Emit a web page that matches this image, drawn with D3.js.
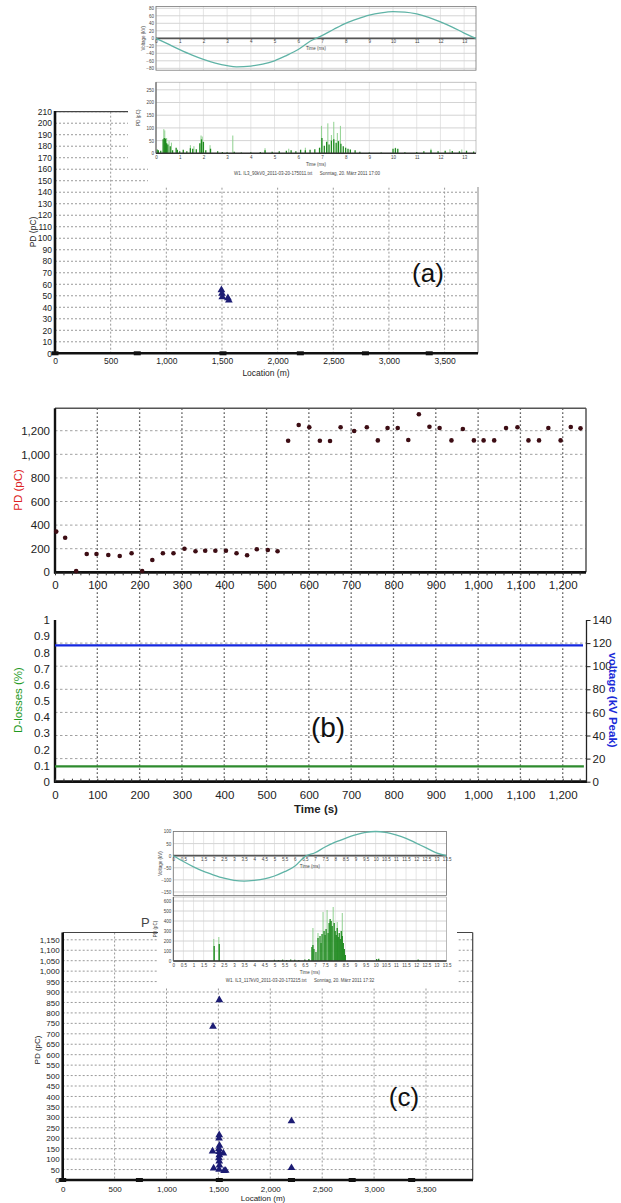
<!DOCTYPE html>
<html>
<head>
<meta charset="utf-8">
<script src="https://cdn.jsdelivr.net/npm/d3@7"></script>
<style>
body { margin: 0; background: #fff; }
svg { display: block; font-family: "Liberation Sans", Arial, sans-serif; }
</style>
</head>
<body>
<svg id="fig" width="621" height="1203"></svg>
<script>
// ---------- data ----------
var locTicks = [0, 500, 1000, 1500, 2000, 2500, 3000, 3500];
var jointLoc = [0, 739, 1509, 2204, 2789, 3362];

// (a) PD map
var aLoc = [1495, 1500, 1503, 1553, 1562];
var aPD = [55, 52, 49, 48, 46];

// (a) inset voltage (kV) vs time (ms)
var aVoltT = [0, 0.5, 1, 1.5, 2, 2.5, 3, 3.4, 4, 4.5, 5, 5.5, 6, 6.5, 7, 7.5, 8, 8.5, 9, 9.5, 10, 10.5, 11, 11.5, 12, 12.5, 13, 13.5];
var aVoltV = [0, -15, -30, -44, -56, -66, -73, -76, -74, -69, -60, -46, -30, -8, 7, 24, 40, 52, 62, 68, 71, 70, 65, 56, 44, 30, 14, 0];

// (a) inset PD pulses (pC) vs time (ms)
var aPaleT = [0.33, 0.37, 0.45, 0.55, 0.65, 1.45, 1.6, 1.9, 1.95, 2.28, 3.24, 4.6, 5.6, 6.3, 6.98, 7.25, 7.4, 7.5, 7.65, 7.78, 10.1, 11.6, 12.4, 12.9];
var aPaleV = [95, 90, 60, 48, 42, 32, 28, 70, 66, 32, 70, 20, 18, 22, 108, 118, 72, 124, 80, 108, 22, 18, 16, 15];
var aDarkT = [0.05, 0.1, 0.2, 0.3, 0.35, 0.4, 0.45, 0.5, 0.6, 0.7, 0.85, 0.9, 1.0, 1.15, 1.3, 1.45, 1.55, 1.7, 1.85, 1.92, 2.0, 2.1, 2.3, 2.6, 2.8, 3.0, 3.3, 3.6, 4.0, 4.4, 4.6, 4.9, 5.2, 5.5, 5.7, 5.9, 6.1, 6.3, 6.5, 6.7, 6.9, 7.0, 7.1, 7.2, 7.3, 7.4, 7.5, 7.6, 7.7, 7.8, 7.9, 8.0, 8.1, 8.2, 8.4, 8.6, 9.0, 9.5, 10.0, 10.1, 10.2, 10.5, 11.0, 11.3, 11.6, 11.9, 12.2, 12.5, 12.8, 13.1, 13.4];
var aDarkV = [15, 12, 10, 55, 60, 58, 40, 35, 28, 12, 22, 14, 8, 14, 8, 20, 18, 16, 40, 55, 45, 12, 18, 8, 5, 4, 6, 3, 4, 5, 12, 6, 8, 10, 12, 8, 14, 12, 14, 16, 22, 60, 30, 45, 35, 50, 55, 42, 48, 38, 28, 22, 18, 15, 12, 6, 3, 3, 18, 20, 18, 4, 5, 8, 12, 8, 10, 9, 8, 10, 7];

// (b) PD (pC) and losses / voltage vs time (s)
var bTime = [3, 24, 50, 75, 98, 126, 153, 181, 206, 230, 255, 280, 306, 332, 355, 379, 404, 429, 454, 477, 503, 526, 551, 576, 601, 626, 650, 675, 707, 737, 763, 786, 810, 835, 860, 885, 909, 937, 964, 990, 1013, 1038, 1066, 1093, 1119, 1144, 1166, 1195, 1219, 1242];
var bPD = [345, 293, 10, 155, 155, 146, 138, 161, 11, 104, 161, 161, 200, 178, 183, 183, 183, 161, 144, 195, 189, 178, 1115, 1248, 1229, 1115, 1113, 1229, 1197, 1229, 1118, 1223, 1223, 1121, 1339, 1234, 1223, 1118, 1214, 1118, 1118, 1118, 1223, 1229, 1118, 1118, 1223, 1118, 1231, 1220];
var bLineT = [0, 1250];
var bVoltKV = [118, 118];
var bLoss = [0.095, 0.095];

// (c) inset voltage
var cVoltT = [0, 0.5, 1, 1.5, 2, 2.5, 3, 3.5, 4, 4.5, 5, 5.5, 6, 6.5, 7, 7.5, 8, 8.5, 9, 9.5, 10, 10.5, 11, 11.5, 12, 12.5, 13, 13.5];
var cVoltV = [0, -24, -46, -65, -80, -93, -102, -105, -102, -96, -84, -66, -44, -4, 12, 36, 56, 72, 86, 96, 100, 96, 86, 72, 52, 32, 12, 0];

// (c) inset PD pulses
var cPaleT = [2.0, 2.25, 6.9, 7.15, 7.4, 7.6, 7.75, 7.9, 8.1, 8.35];
var cPaleV = [220, 240, 330, 280, 490, 510, 400, 540, 390, 480];
var cDarkT = [2.02, 2.27, 5.0, 5.2, 5.4, 5.6, 5.8, 6.0, 6.2, 6.5, 6.7, 6.85, 6.9, 6.95, 7.05, 7.15, 7.25, 7.3, 7.35, 7.45, 7.5, 7.55, 7.65, 7.7, 7.75, 7.8, 7.85, 7.95, 8.0, 8.05, 8.1, 8.15, 8.2, 8.25, 8.3, 8.35, 8.4, 8.45, 8.5, 10.05, 10.15, 12.1];
var cDarkV = [150, 170, 12, 10, 14, 10, 16, 12, 10, 15, 20, 140, 160, 120, 90, 230, 250, 180, 270, 300, 260, 320, 280, 380, 420, 400, 350, 380, 300, 260, 330, 240, 280, 220, 300, 250, 180, 120, 60, 20, 22, 15];

// (c) PD map
var cLoc = [1509, 1448, 1508, 1506, 1510, 1505, 1507, 1509, 1506, 1508, 1510, 1507, 1444, 1548, 1454, 1555, 1570, 2204, 2204];
var cPD = [862, 735, 215, 200, 165, 150, 135, 120, 105, 90, 70, 50, 138, 128, 56, 44, 45, 282, 58];

// ---------- drawing ----------
var svg = d3.select("#fig");
var fmt = d3.format(",");
var navy = "#1c1c74";

function dotGridH(vals, sy, x0, x1, color, dash) {
    svg.append("g").selectAll("line").data(vals).enter().append("line")
        .attr("x1", x0).attr("x2", x1)
        .attr("y1", function(d) { return sy(d); })
        .attr("y2", function(d) { return sy(d); })
        .attr("stroke", color).attr("stroke-width", 1)
        .attr("stroke-dasharray", dash);
}
function dotGridV(vals, sx, y0, y1, color, dash, w) {
    svg.append("g").selectAll("line").data(vals).enter().append("line")
        .attr("y1", y0).attr("y2", y1)
        .attr("x1", function(d) { return sx(d); })
        .attr("x2", function(d) { return sx(d); })
        .attr("stroke", color).attr("stroke-width", w || 1)
        .attr("stroke-dasharray", dash);
}
function styleAxis(g, size, color) {
    g.select(".domain").remove();
    g.selectAll("line").remove();
    g.selectAll("text").attr("font-size", size).attr("fill", color || "#222")
        .attr("font-family", "'Liberation Sans', Arial, sans-serif");
}
function jointMarks(sx, y) {
    svg.append("g").selectAll("rect").data(jointLoc).enter().append("rect")
        .attr("x", function(d) { return sx(d) - 3.5; })
        .attr("y", y - 2)
        .attr("width", 7).attr("height", 4)
        .attr("fill", "#111");
}
function triangles(locs, vals, sx, sy) {
    svg.append("g").selectAll("path").data(locs).enter().append("path")
        .attr("d", d3.symbol().type(d3.symbolTriangle).size(26))
        .attr("transform", function(d, i) { return "translate(" + sx(d) + "," + sy(vals[i]) + ")"; })
        .attr("fill", navy);
}

// inset (voltage + PD trace) drawn over a map panel
function inset(opt) {
    var vx = d3.scaleLinear().domain([0, 13.5]).range(opt.xr);
    var vy = d3.scaleLinear().domain(opt.vDom).range(opt.vRange);
    var py = d3.scaleLinear().domain(opt.pDom).range(opt.pRange);
    var gridC = "#d4d4d4";
    // voltage frame
    dotGridV(opt.tGrid, vx, opt.vRange[1], opt.vRange[0], gridC, null, 0.6);
    dotGridH(opt.vTicks, vy, opt.xr[0], opt.xr[1], gridC, null);
    svg.append("rect").attr("x", opt.xr[0]).attr("y", opt.vRange[1])
        .attr("width", opt.xr[1] - opt.xr[0]).attr("height", opt.vRange[0] - opt.vRange[1])
        .attr("fill", "none").attr("stroke", "#777").attr("stroke-width", 0.8);
    svg.append("line").attr("x1", opt.xr[0]).attr("x2", opt.xr[1])
        .attr("y1", vy(0)).attr("y2", vy(0)).attr("stroke", "#555").attr("stroke-width", 1.8);
    svg.append("g").attr("transform", "translate(" + opt.xr[0] + ",0)")
        .call(d3.axisLeft(vy).tickValues(opt.vTicks).tickSize(0).tickPadding(2))
        .call(styleAxis, 4.5, "#444");
    svg.append("g").attr("transform", "translate(0," + vy(0) + ")")
        .call(d3.axisBottom(vx).tickValues(opt.tTicks).tickSize(0).tickPadding(2).tickFormat(d3.format("")))
        .call(styleAxis, 4.5, "#444");
    svg.append("text").attr("x", d3.mean(opt.xr)).attr("y", vy(0) + 12)
        .attr("text-anchor", "middle").attr("font-size", 4.5).attr("fill", "#444").text("Time (ms)");
    svg.append("text").attr("transform", "translate(" + (opt.xr[0] - 11) + "," + d3.mean(opt.vRange) + ") rotate(-90)")
        .attr("text-anchor", "middle").attr("font-size", 4.5).attr("fill", "#444").text("Voltage (kV)");
    svg.append("path").datum(opt.voltT)
        .attr("fill", "none").attr("stroke", "#5fb3a6").attr("stroke-width", 1.3)
        .attr("d", d3.line().curve(d3.curveMonotoneX)
            .x(function(d) { return vx(d); })
            .y(function(d, i) { return vy(opt.voltV[i]); }));

    // PD frame
    dotGridV(opt.tGrid, vx, opt.pRange[1], opt.pRange[0], gridC, null, 0.6);
    dotGridH(opt.pTicks, py, opt.xr[0], opt.xr[1], gridC, null);
    svg.append("rect").attr("x", opt.xr[0]).attr("y", opt.pRange[1])
        .attr("width", opt.xr[1] - opt.xr[0]).attr("height", opt.pRange[0] - opt.pRange[1])
        .attr("fill", "none").attr("stroke", "#999").attr("stroke-width", 0.6);
    svg.append("g").selectAll("line").data(opt.paleT).enter().append("line")
        .attr("x1", function(d) { return vx(d); }).attr("x2", function(d) { return vx(d); })
        .attr("y1", py(0)).attr("y2", function(d, i) { return py(opt.paleV[i]); })
        .attr("stroke", "#8fd18f").attr("stroke-width", 1);
    svg.append("g").selectAll("line").data(opt.darkT).enter().append("line")
        .attr("x1", function(d) { return vx(d); }).attr("x2", function(d) { return vx(d); })
        .attr("y1", py(0)).attr("y2", function(d, i) { return py(opt.darkV[i]); })
        .attr("stroke", "#1f8a1f").attr("stroke-width", 1.3);
    svg.append("line").attr("x1", opt.xr[0]).attr("x2", opt.xr[1])
        .attr("y1", py(0)).attr("y2", py(0)).attr("stroke", "#333").attr("stroke-width", 1.4);
    svg.append("line").attr("x1", opt.xr[0]).attr("x2", opt.xr[0])
        .attr("y1", opt.pRange[1]).attr("y2", py(0)).attr("stroke", "#555").attr("stroke-width", 1);
    svg.append("g").attr("transform", "translate(" + opt.xr[0] + ",0)")
        .call(d3.axisLeft(py).tickValues(opt.pTicks).tickSize(0).tickPadding(2))
        .call(styleAxis, 4.5, "#444");
    svg.append("g").attr("transform", "translate(0," + py(0) + ")")
        .call(d3.axisBottom(vx).tickValues(opt.tTicks).tickSize(0).tickPadding(3).tickFormat(d3.format("")))
        .call(styleAxis, 4.5, "#444");
    svg.append("text").attr("x", d3.mean(opt.xr)).attr("y", py(0) + 13)
        .attr("text-anchor", "middle").attr("font-size", 4.5).attr("fill", "#444").text("Time (ms)");
    svg.append("text").attr("transform", "translate(" + (opt.xr[0] - 16) + "," + d3.mean(opt.pRange) + ") rotate(-90)")
        .attr("text-anchor", "middle").attr("font-size", 4.5).attr("fill", "#444").text("PD (pC)");
    svg.append("text").attr("x", opt.capX).attr("y", opt.capY)
        .attr("text-anchor", "middle").attr("font-size", 4.5).attr("fill", "#444")
        .attr("xml:space", "preserve").text(opt.caption);
}

// ===== panel (a) =====
var ax = d3.scaleLinear().domain([0, 3800]).range([55, 478]);
var ay = d3.scaleLinear().domain([0, 210]).range([353.3, 111.7]);
dotGridH(d3.range(10, 211, 10), ay, 55, 478, "#9a9a9a", "2,2");
dotGridV(locTicks.slice(1), ax, 111.7, 353.3, "#9a9a9a", "2,2");
svg.append("line").attr("x1", 55).attr("x2", 478).attr("y1", 111.7).attr("y2", 111.7)
    .attr("stroke", "#444").attr("stroke-width", 1.2);
svg.append("line").attr("x1", 478).attr("x2", 478).attr("y1", 111.7).attr("y2", 353.3)
    .attr("stroke", "#888").attr("stroke-width", 1);
svg.append("g").attr("transform", "translate(55,0)")
    .call(d3.axisLeft(ay).tickValues(d3.range(0, 211, 10)).tickSize(0).tickPadding(3))
    .call(styleAxis, 8.5);
svg.append("g").attr("transform", "translate(0,353.3)")
    .call(d3.axisBottom(ax).tickValues(locTicks).tickSize(0).tickPadding(5).tickFormat(fmt))
    .call(styleAxis, 8.5);
svg.append("line").attr("x1", 55).attr("x2", 55).attr("y1", 111).attr("y2", 354.5)
    .attr("stroke", "#111").attr("stroke-width", 2.6);
svg.append("line").attr("x1", 54).attr("x2", 478).attr("y1", 353.3).attr("y2", 353.3)
    .attr("stroke", "#111").attr("stroke-width", 2.6);
jointMarks(ax, 353.3);
svg.append("text").attr("transform", "translate(36,232) rotate(-90)")
    .attr("text-anchor", "middle").attr("font-size", 8.5).attr("fill", "#222").text("PD (pC)");
svg.append("text").attr("x", 266).attr("y", 376)
    .attr("text-anchor", "middle").attr("font-size", 8.5).attr("fill", "#222").text("Location (m)");
triangles(aLoc, aPD, ax, ay);
svg.append("text").attr("x", 428).attr("y", 282)
    .attr("text-anchor", "middle").attr("font-size", 26).attr("fill", "#111").text("(a)");

// inset (a)
svg.append("rect").attr("x", 128).attr("y", 0).attr("width", 354).attr("height", 165).attr("fill", "#fff");
svg.append("rect").attr("x", 148).attr("y", 165).attr("width", 334).attr("height", 22).attr("fill", "#fff");
inset({
    xr: [156, 476],
    vDom: [-85, 85], vRange: [70.2, 6.4],
    vTicks: [-80, -60, -40, -20, 0, 20, 40, 60, 80],
    pDom: [0, 280], pRange: [153.3, 82.2],
    pTicks: [0, 50, 100, 150, 200, 250],
    tTicks: d3.range(0, 14, 1), tGrid: d3.range(0, 14, 1),
    voltT: aVoltT, voltV: aVoltV,
    paleT: aPaleT, paleV: aPaleV, darkT: aDarkT, darkV: aDarkV,
    caption: "W1. IL3_90kV0_2011-03-20-175011.txt      Sonntag, 20. März 2011 17:00",
    capX: 307, capY: 175
});

// ===== panel (b) =====
var bx = d3.scaleLinear().domain([0, 1255]).range([55, 586]);
var byPD = d3.scaleLinear().domain([0, 1390]).range([572.3, 408.3]);
var byL = d3.scaleLinear().domain([0, 1]).range([781.7, 620]);
var byV = d3.scaleLinear().domain([0, 140]).range([781.7, 620]);
var bTicks = d3.range(0, 1201, 100);

dotGridH(d3.range(200, 1201, 200), byPD, 55, 586, "#a0a0a0", "2.5,2.5");
dotGridH(d3.range(20, 121, 20), byV, 55, 586, "#a0a0a0", "2.5,2.5");
dotGridV(bTicks.slice(1), bx, 408.3, 781.7, "#666", "1.6,2.4", 1.3);

svg.append("line").attr("x1", 55).attr("x2", 586).attr("y1", 408.3).attr("y2", 408.3)
    .attr("stroke", "#555").attr("stroke-width", 1.5);
svg.append("line").attr("x1", 586).attr("x2", 586).attr("y1", 408.3).attr("y2", 572.3)
    .attr("stroke", "#555").attr("stroke-width", 1.5);
svg.append("line").attr("x1", 55).attr("x2", 55).attr("y1", 408.3).attr("y2", 573.5)
    .attr("stroke", "#111").attr("stroke-width", 2.4);
svg.append("line").attr("x1", 54).attr("x2", 586).attr("y1", 572.3).attr("y2", 572.3)
    .attr("stroke", "#111").attr("stroke-width", 2.8);
svg.append("g").attr("transform", "translate(0,572.3)")
    .call(d3.axisBottom(bx).tickValues(d3.range(0, 1251, 20)).tickSize(3).tickFormat(""))
    .call(function(g) { g.select(".domain").remove(); g.selectAll("line").attr("stroke", "#333"); });
svg.append("g").attr("transform", "translate(55,0)")
    .call(d3.axisLeft(byPD).tickValues(d3.range(0, 1201, 200)).tickSize(0).tickPadding(5).tickFormat(fmt))
    .call(styleAxis, 11.5);
svg.append("g").attr("transform", "translate(0,572.3)")
    .call(d3.axisBottom(bx).tickValues(bTicks).tickSize(0).tickPadding(9).tickFormat(fmt))
    .call(styleAxis, 11.5);
svg.append("text").attr("transform", "translate(22,490) rotate(-90)")
    .attr("text-anchor", "middle").attr("font-size", 11.5).attr("fill", "#d22").text("PD (pC)");
svg.append("g").selectAll("circle").data(bTime).enter().append("circle")
    .attr("cx", function(d) { return bx(d); })
    .attr("cy", function(d, i) { return byPD(bPD[i]); })
    .attr("r", 2.3).attr("fill", "#3d0d14");

// lower part of (b)
svg.append("line").attr("x1", 55).attr("x2", 55).attr("y1", 620).attr("y2", 782.7)
    .attr("stroke", "#111").attr("stroke-width", 2.4);
svg.append("line").attr("x1", 54).attr("x2", 587).attr("y1", 781.7).attr("y2", 781.7)
    .attr("stroke", "#111").attr("stroke-width", 2.8);
svg.append("line").attr("x1", 586.5).attr("x2", 586.5).attr("y1", 620).attr("y2", 781.7)
    .attr("stroke", "#222").attr("stroke-width", 1.3);
svg.append("g").attr("transform", "translate(0,781.7)")
    .call(d3.axisTop(bx).tickValues(d3.range(0, 1251, 20)).tickSize(3).tickFormat(""))
    .call(function(g) { g.select(".domain").remove(); g.selectAll("line").attr("stroke", "#333"); });
svg.append("g").attr("transform", "translate(55,0)")
    .call(d3.axisLeft(byL).tickValues(d3.range(0, 1.01, 0.1)).tickSize(0).tickPadding(5).tickFormat(d3.format("~g")))
    .call(styleAxis, 11.5);
svg.append("g").attr("transform", "translate(586.5,0)")
    .call(d3.axisRight(byV).tickValues(d3.range(0, 141, 20)).tickSize(4).tickPadding(2))
    .call(function(g) {
        g.select(".domain").remove();
        g.selectAll("line").attr("stroke", "#222");
        g.selectAll("text").attr("font-size", 11.5).attr("fill", "#222");
    });
svg.append("g").attr("transform", "translate(0,781.7)")
    .call(d3.axisBottom(bx).tickValues(bTicks).tickSize(0).tickPadding(9).tickFormat(fmt))
    .call(styleAxis, 11.5);
svg.append("path").datum(bLineT)
    .attr("fill", "none").attr("stroke", "#1428e0").attr("stroke-width", 2.2)
    .attr("d", d3.line().x(function(d) { return Math.min(bx(d), 583); }).y(function(d, i) { return byV(bVoltKV[i]); }));
svg.append("path").datum(bLineT)
    .attr("fill", "none").attr("stroke", "#2e8b2e").attr("stroke-width", 2.2)
    .attr("d", d3.line().x(function(d) { return Math.min(bx(d), 586); }).y(function(d, i) { return byL(bLoss[i]); }));
svg.append("text").attr("transform", "translate(22,700) rotate(-90)")
    .attr("text-anchor", "middle").attr("font-size", 11.5).attr("fill", "#1f9a1f").text("D-losses (%)");
svg.append("text").attr("transform", "translate(609,700) rotate(90)")
    .attr("text-anchor", "middle").attr("font-size", 11.5).attr("font-weight", "bold").attr("fill", "#1a2ad8").text("voltage (kV Peak)");
svg.append("text").attr("x", 316).attr("y", 813)
    .attr("text-anchor", "middle").attr("font-size", 11.5).attr("font-weight", "bold").attr("fill", "#222").text("Time (s)");
svg.append("text").attr("x", 328).attr("y", 737)
    .attr("text-anchor", "middle").attr("font-size", 28).attr("fill", "#111").text("(b)");

// ===== panel (c) =====
var cx = d3.scaleLinear().domain([0, 3950]).range([62.7, 472.7]);
var cy = d3.scaleLinear().domain([0, 1185]).range([1180, 932.5]);
dotGridH(d3.range(50, 1151, 50), cy, 62.7, 472.7, "#9a9a9a", "2,2");
dotGridV(locTicks.slice(1), cx, 932.5, 1180, "#9a9a9a", "2,2");
svg.append("line").attr("x1", 62.7).attr("x2", 472.7).attr("y1", 932.5).attr("y2", 932.5)
    .attr("stroke", "#444").attr("stroke-width", 1.2);
svg.append("line").attr("x1", 472.7).attr("x2", 472.7).attr("y1", 932.5).attr("y2", 1180)
    .attr("stroke", "#444").attr("stroke-width", 1.2);
svg.append("g").attr("transform", "translate(62.7,0)")
    .call(d3.axisLeft(cy).tickValues(d3.range(0, 1151, 50)).tickSize(0).tickPadding(3).tickFormat(fmt))
    .call(styleAxis, 8);
svg.append("g").attr("transform", "translate(0,1180)")
    .call(d3.axisBottom(cx).tickValues(locTicks).tickSize(0).tickPadding(6).tickFormat(fmt))
    .call(styleAxis, 8);
svg.append("line").attr("x1", 62.7).attr("x2", 62.7).attr("y1", 932.5).attr("y2", 1181.3)
    .attr("stroke", "#111").attr("stroke-width", 2.6);
svg.append("line").attr("x1", 61.5).attr("x2", 473).attr("y1", 1180).attr("y2", 1180)
    .attr("stroke", "#111").attr("stroke-width", 2.6);
jointMarks(cx, 1180);
svg.append("text").attr("transform", "translate(40,1050) rotate(-90)")
    .attr("text-anchor", "middle").attr("font-size", 8).attr("fill", "#222").text("PD (pC)");
svg.append("text").attr("x", 263).attr("y", 1201)
    .attr("text-anchor", "middle").attr("font-size", 8).attr("fill", "#222").text("Location (m)");
triangles(cLoc, cPD, cx, cy);
svg.append("text").attr("x", 404).attr("y", 1106)
    .attr("text-anchor", "middle").attr("font-size", 26).attr("fill", "#111").text("(c)");

// inset (c)
svg.append("rect").attr("x", 158).attr("y", 822).attr("width", 299).attr("height", 166).attr("fill", "#fff");
svg.append("text").attr("x", 141).attr("y", 927).attr("font-size", 13).attr("fill", "#444").text("P");
inset({
    xr: [173.3, 446.5],
    vDom: [-165, 100], vRange: [895.6, 831.5],
    vTicks: [-150, -100, -50, 0, 50, 100],
    pDom: [0, 640], pRange: [961, 897],
    pTicks: [0, 100, 200, 300, 400, 500, 600],
    tTicks: d3.range(0, 13.6, 0.5), tGrid: d3.range(0, 13.6, 0.5),
    voltT: cVoltT, voltV: cVoltV,
    paleT: cPaleT, paleV: cPaleV, darkT: cDarkT, darkV: cDarkV,
    caption: "W1. IL3_117kV0_2011-03-20-173215.txt      Sonntag, 20. März 2011 17:32",
    capX: 300, capY: 982
});
</script>
</body>
</html>
